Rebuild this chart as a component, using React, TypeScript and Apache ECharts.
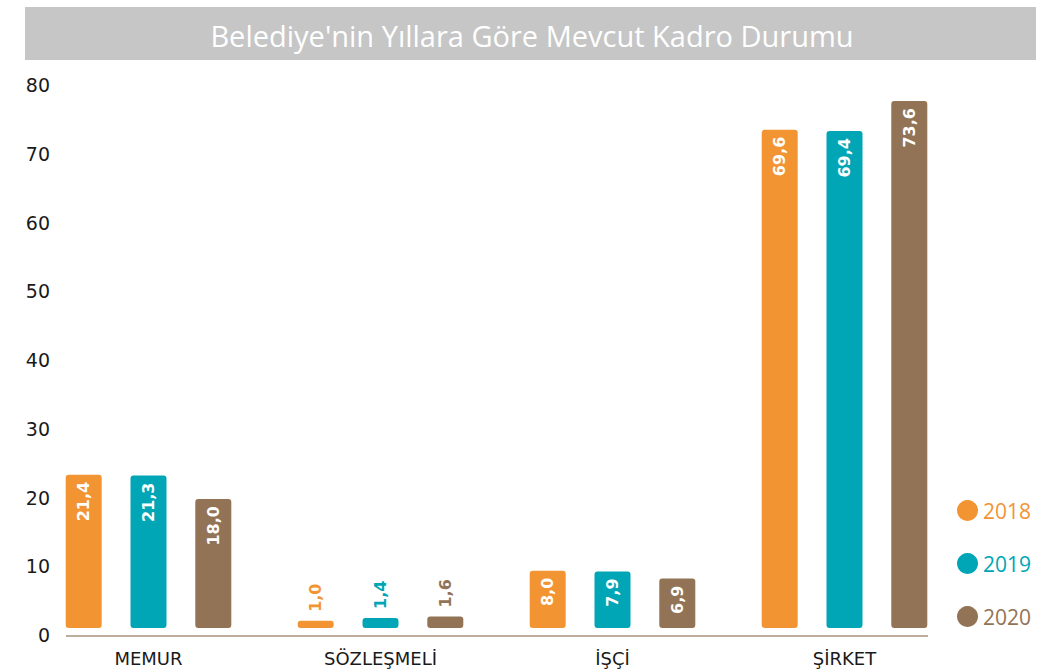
import React, { useEffect, useRef } from "react";
import * as echarts from "echarts";

const categories = ["MEMUR", "SÖZLEŞMELİ", "İŞÇİ", "ŞİRKET"];
const years = ["2018", "2019", "2020"];
const values2018 = [21.4, 1.0, 8.0, 69.6];
const values2019 = [21.3, 1.4, 7.9, 69.4];
const values2020 = [18.0, 1.6, 6.9, 73.6];
const colors = ["#F39433", "#00A5B6", "#927355"];
const yTicks = [0, 10, 20, 30, 40, 50, 60, 70, 80];
const title = "Belediye'nin Yıllara Göre Mevcut Kadro Durumu";

const FONT = "'Open Sans', 'DejaVu Sans', sans-serif";
const WIDE = "'DejaVu Sans', sans-serif";

const fmt = (v: number) => v.toFixed(1).replace(".", ",");

export default function App() {
  const ref = useRef<HTMLDivElement>(null);
  useEffect(() => {
    if (!ref.current) return;
    const chart = echarts.init(ref.current, undefined, { renderer: "svg" });
    const seriesValues = [values2018, values2019, values2020];
    const series = seriesValues.map((vals, i) => ({
      name: years[i],
      type: "bar",
      xAxisIndex: 1,
      yAxisIndex: 1,
      barWidth: 36,
      barGap: "80%",
      itemStyle: { color: colors[i], borderRadius: 3 },
      label: {
        show: true,
        position: "insideTop",
        distance: 7,
        rotate: 90,
        align: "right",
        verticalAlign: "middle",
        color: "#fff",
        fontWeight: "bold",
        fontSize: 16,
        fontFamily: WIDE,
        formatter: (p: any) => fmt(p.value),
      },
      data: vals.map((v) =>
        v < 5
          ? {
              value: v,
              label: {
                position: "top",
                distance: 9,
                rotate: 90,
                align: "left",
                verticalAlign: "middle",
                color: colors[i],
              },
            }
          : v
      ),
    }));

    chart.setOption({
      animation: false,
      backgroundColor: "#fff",
      title: {
        text: title,
        left: 527,
        top: 16,
        textAlign: "center",
        textStyle: { color: "#fff", fontSize: 29, fontWeight: "normal", fontFamily: FONT },
      },
      graphic: [
        {
          type: "rect",
          z: -1,
          shape: { x: 25, y: 7, width: 1011, height: 53 },
          style: { fill: "#C6C6C6" },
        },
        {
          type: "line",
          shape: { x1: 66, y1: 636, x2: 928, y2: 636 },
          style: { stroke: "#A8937E", lineWidth: 1.5 },
        },
      ],
      legend: {
        orient: "vertical",
        left: 952,
        top: 495,
        itemWidth: 21,
        itemHeight: 21,
        itemGap: 32,
        itemTextGap: 6,
        icon: "circle",
        data: years.map((y, i) => ({
          name: y,
          textStyle: { color: colors[i], fontSize: 21, fontFamily: FONT },
        })),
      },
      grid: [
        { left: 58, right: 100, top: 85, bottom: 37 },
        { left: 32.5, right: 100.5, top: 55.2, bottom: 44 },
      ],
      xAxis: [
        { type: "value", gridIndex: 0, show: false },
        {
          type: "category",
          gridIndex: 1,
          data: categories,
          axisLine: { show: false },
          axisTick: { show: false },
          axisLabel: {
            margin: 21,
            color: "#1a1a1a",
            fontSize: 18,
            fontFamily: WIDE,
          },
        },
      ],
      yAxis: [
        {
          type: "value",
          gridIndex: 0,
          min: yTicks[0],
          max: yTicks[yTicks.length - 1],
          interval: 10,
          axisLine: { show: false },
          axisTick: { show: false },
          splitLine: { show: false },
          axisLabel: { margin: 8, color: "#1a1a1a", fontSize: 19, fontFamily: WIDE },
        },
        {
          type: "value",
          gridIndex: 1,
          min: 0,
          max: 80,
          show: false,
          splitLine: { show: false },
        },
      ],
      series,
    });
    return () => chart.dispose();
  }, []);
  return (
    <div
      ref={ref}
      style={{ position: "fixed", left: 0, top: 0, width: 1061, height: 672 }}
    />
  );
}
